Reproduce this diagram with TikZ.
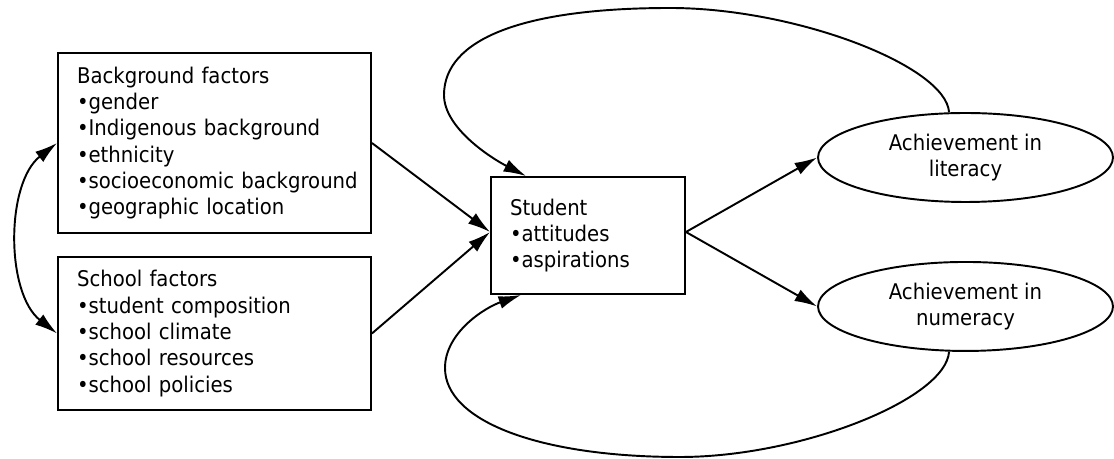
\documentclass[tikz,border=0pt]{standalone}
\usepackage{fontspec}
\setmainfont{DejaVu Sans}[FakeStretch=0.91]
\usepackage{tikz}
\usetikzlibrary{arrows,shapes}
\usetikzlibrary{arrows.meta}
\tikzstyle{factor}=[rectangle, draw, line width=1.1pt, text width=5.5cm, align=left, inner xsep=0.38cm, font=\fontsize{12.3}{15}\selectfont]
\tikzstyle{learner}=[rectangle, draw, line width=1.1pt, text width=3.12cm, align=left, inner xsep=0.38cm, minimum height=2.34cm, font=\fontsize{12.3}{15}\selectfont]
\tikzstyle{outcome}=[ellipse, draw, line width=1.1pt, minimum width=5.9cm, minimum height=1.78cm, inner sep=0pt, align=center, font=\fontsize{12.3}{15}\selectfont]

\begin{document}
\begin{tikzpicture}[x=0.02cm, y=0.02cm, node distance=3.83cm, line width=1.1pt, >={Latex[length=0.45cm, width=0.26cm]}]
      %
      \path[use as bounding box] (0,0) rectangle (1114,459);
      %
      % Background factors <--> School factors
      %
      \path[->] node[factor, minimum height=3.6cm] at (214.5,316) (background)
        {Background factors\\ \textbullet gender\\ \textbullet Indigenous background\\ \textbullet ethnicity\\ \textbullet\mbox{socioeconomic background}\\ \textbullet geographic location};
      \path[->] node[factor, minimum height=3.06cm, below of=background, yshift=0.02cm] (school)
        {School factors\\ \textbullet student composition\\ \textbullet school climate\\ \textbullet school resources\\ \textbullet school policies};
      \path [draw, <->] (background.west) to[out=218, in=142, looseness=0.88] (school.west);
      %
      % factors --> Student*
      %
      \path[->] node[learner] at (588,223.5) (student) {Student\\ \textbullet attitudes\\ \textbullet aspirations};
      \path [draw, ->] (background.east) -- ([yshift=0.07cm]student.west);
      \path [draw, ->] (school.east) -- ([yshift=0.07cm]student.west);
      %
      % Student --> Achievement*
      %
      \path[->] node[outcome] at (965.5,301.5) (literacy) {Achievement in\\ literacy};
      \path[->] node[outcome, below of=literacy, node distance=2.98cm] (numeracy) {Achievement in\\ numeracy};
      \path [draw, ->] ([yshift=0.07cm]student.east) -- (literacy.west);
      \path [draw, ->] ([yshift=0.07cm]student.east) -- (numeracy.west);
      %
      % Achievement --> Student (feedback loops)
      %
      \path [draw, ->] (literacy.110) .. controls (946,393) and (796,451) .. (670,451)
        .. controls (523,451) and (444,420) .. (444,364)
        .. controls (444,331) and (491,301) .. ([xshift=0.72cm]student.north west);
      \path [draw, ->] (numeracy.-110) .. controls (946,60) and (801,2) .. (680,2)
        .. controls (539,2) and (445,38) .. (445,91)
        .. controls (445,126) and (484,151) .. ([xshift=0.62cm]student.south west);
      %
    \end{tikzpicture}
\end{document}
